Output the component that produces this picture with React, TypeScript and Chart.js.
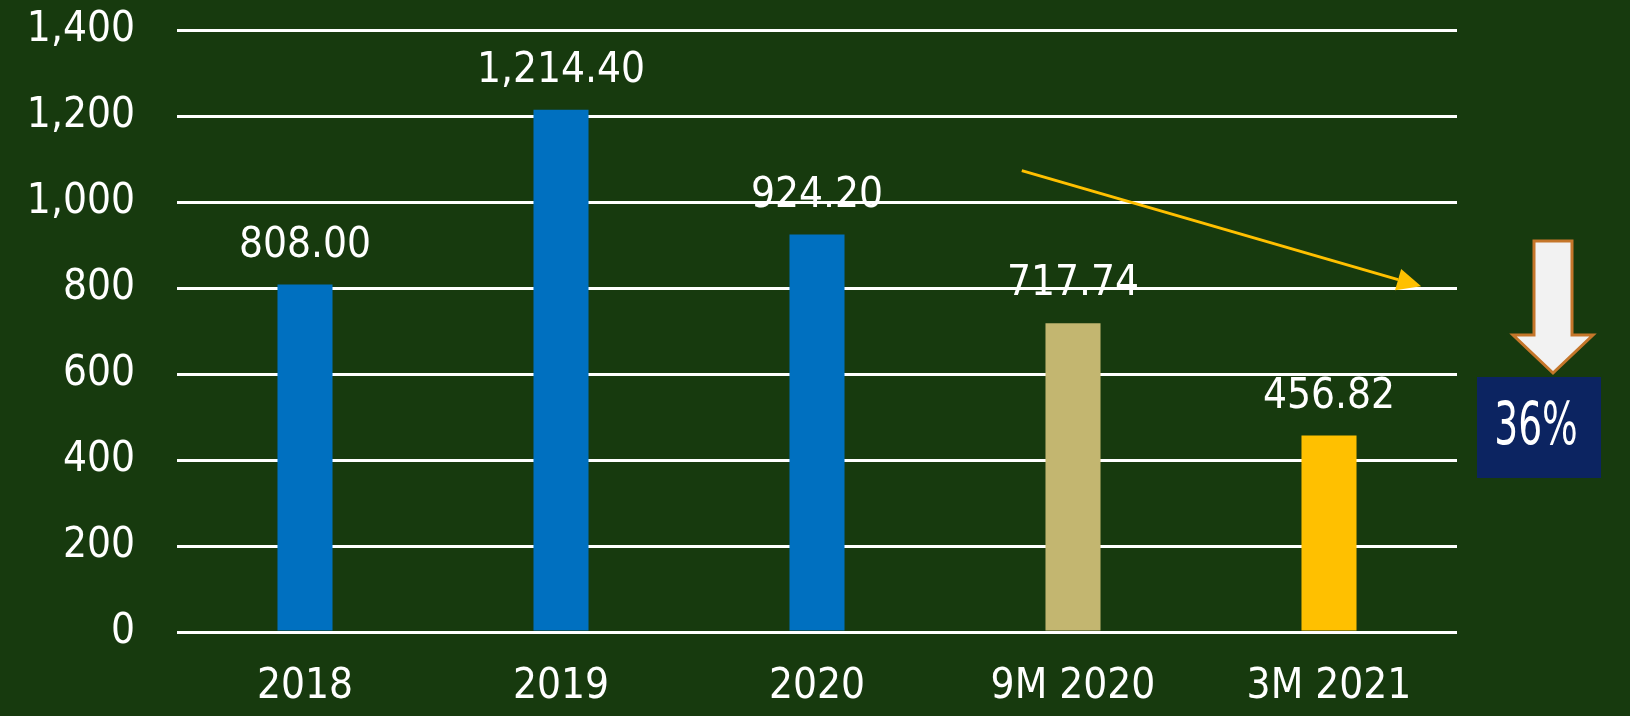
import React, { useEffect, useRef } from "react";
import { Chart, registerables } from "chart.js";

Chart.register(...registerables);

const categories = ["2018", "2019", "2020", "9M 2020", "3M 2021"];
const values = [808.0, 1214.4, 924.2, 717.74, 456.82];
const barColors = ["#0070c0", "#0070c0", "#0070c0", "#c3b670", "#ffc000"];
const yTicks = [0, 200, 400, 600, 800, 1000, 1200, 1400];
const trendFrom = [2.8, 1073];
const trendTo = [4.36, 804];
const changeLabel = "36%";

const BG = "#173a0e";
const FONT = "'DejaVu Sans Condensed', 'DejaVu Sans', sans-serif";

const fmt = (v: number) =>
  v.toLocaleString("en-US", { minimumFractionDigits: 2, maximumFractionDigits: 2 });

const decorPlugin = {
  id: "decor",
  beforeDraw(chart: any) {
    const ctx = chart.ctx;
    ctx.save();
    ctx.fillStyle = BG;
    ctx.fillRect(0, 0, chart.width, chart.height);
    ctx.restore();
  },
  afterDatasetsDraw(chart: any) {
    const ctx = chart.ctx;
    const meta = chart.getDatasetMeta(0);
    ctx.save();
    ctx.font = `42px ${FONT}`;
    ctx.fillStyle = "#ffffff";
    ctx.textAlign = "center";
    ctx.textBaseline = "alphabetic";
    meta.data.forEach((bar: any, i: number) => {
      ctx.fillText(fmt(values[i]), bar.x, bar.y - 28);
    });

    // trend arrow
    const xs = chart.scales.x;
    const ys = chart.scales.y;
    const x1 = xs.getPixelForValue(trendFrom[0]);
    const y1 = ys.getPixelForValue(trendFrom[1]);
    const x2 = xs.getPixelForValue(trendTo[0]);
    const y2 = ys.getPixelForValue(trendTo[1]);
    const ang = Math.atan2(y2 - y1, x2 - x1);
    const headLen = 24;
    const headW = 11;
    const bx = x2 - headLen * Math.cos(ang);
    const by = y2 - headLen * Math.sin(ang);
    ctx.strokeStyle = "#ffc000";
    ctx.lineWidth = 3;
    ctx.beginPath();
    ctx.moveTo(x1, y1);
    ctx.lineTo(bx, by);
    ctx.stroke();
    ctx.fillStyle = "#ffc000";
    ctx.beginPath();
    ctx.moveTo(x2, y2);
    ctx.lineTo(bx + headW * Math.sin(ang), by - headW * Math.cos(ang));
    ctx.lineTo(bx - headW * Math.sin(ang), by + headW * Math.cos(ang));
    ctx.closePath();
    ctx.fill();

    // down arrow + box
    const R = chart.chartArea.right;
    const cx = R + 96;
    ctx.beginPath();
    ctx.moveTo(cx - 19, 241);
    ctx.lineTo(cx + 19, 241);
    ctx.lineTo(cx + 19, 335);
    ctx.lineTo(cx + 40, 335);
    ctx.lineTo(cx, 373);
    ctx.lineTo(cx - 40, 335);
    ctx.lineTo(cx - 19, 335);
    ctx.closePath();
    ctx.fillStyle = "#f2f2f2";
    ctx.fill();
    ctx.strokeStyle = "#c5762a";
    ctx.lineWidth = 3;
    ctx.lineJoin = "miter";
    ctx.stroke();

    ctx.fillStyle = "#0c2461";
    ctx.fillRect(R + 20, 377, 124, 101);
    ctx.fillStyle = "#ffffff";
    ctx.font = `58px ${FONT}`;
    ctx.textAlign = "center";
    ctx.textBaseline = "middle";
    ctx.translate(R + 79, 429);
    ctx.scale(0.72, 1);
    ctx.fillText(changeLabel, 0, 0);
    ctx.restore();
  },
};

export default function App() {
  const ref = useRef<HTMLCanvasElement>(null);
  useEffect(() => {
    document.body.style.margin = "0";
    document.body.style.background = BG;
    const chart = new Chart(ref.current as HTMLCanvasElement, {
      type: "bar",
      data: {
        labels: categories,
        datasets: [
          {
            data: values,
            backgroundColor: barColors,
            borderWidth: 0,
            barPercentage: 0.215,
            categoryPercentage: 1,
          },
        ],
      },
      options: {
        animation: false,
        responsive: false,
        maintainAspectRatio: false,
        layout: { padding: { left: 0, right: 173, top: 30, bottom: 0 } },
        plugins: { legend: { display: false }, tooltip: { enabled: false } },
        scales: {
          x: {
            grid: { display: false, drawTicks: false },
            border: { display: false },
            ticks: {
              color: "#ffffff",
              font: { family: FONT, size: 42 },
              padding: 30,
              maxRotation: 0,
            },
            afterFit: (s: any) => {
              s.height = 84;
            },
          },
          y: {
            min: 0,
            max: 1400,
            afterBuildTicks: (s: any) => {
              s.ticks = yTicks.map((v) => ({ value: v }));
            },
            grid: { color: "#ffffff", lineWidth: 3, drawTicks: false },
            border: { display: false },
            ticks: {
              color: "#ffffff",
              font: { family: FONT, size: 42 },
              padding: 42,
              callback: (v: any) => Number(v).toLocaleString("en-US"),
            },
            afterFit: (s: any) => {
              s.width = 177;
              s.paddingTop = 0;
              s.paddingBottom = 0;
            },
          },
        },
      },
      plugins: [decorPlugin],
    });
    return () => chart.destroy();
  }, []);
  return (
    <div style={{ width: 1630, height: 716, background: BG }}>
      <canvas ref={ref} width={1630} height={716} style={{ width: 1630, height: 716, display: "block" }} />
    </div>
  );
}
